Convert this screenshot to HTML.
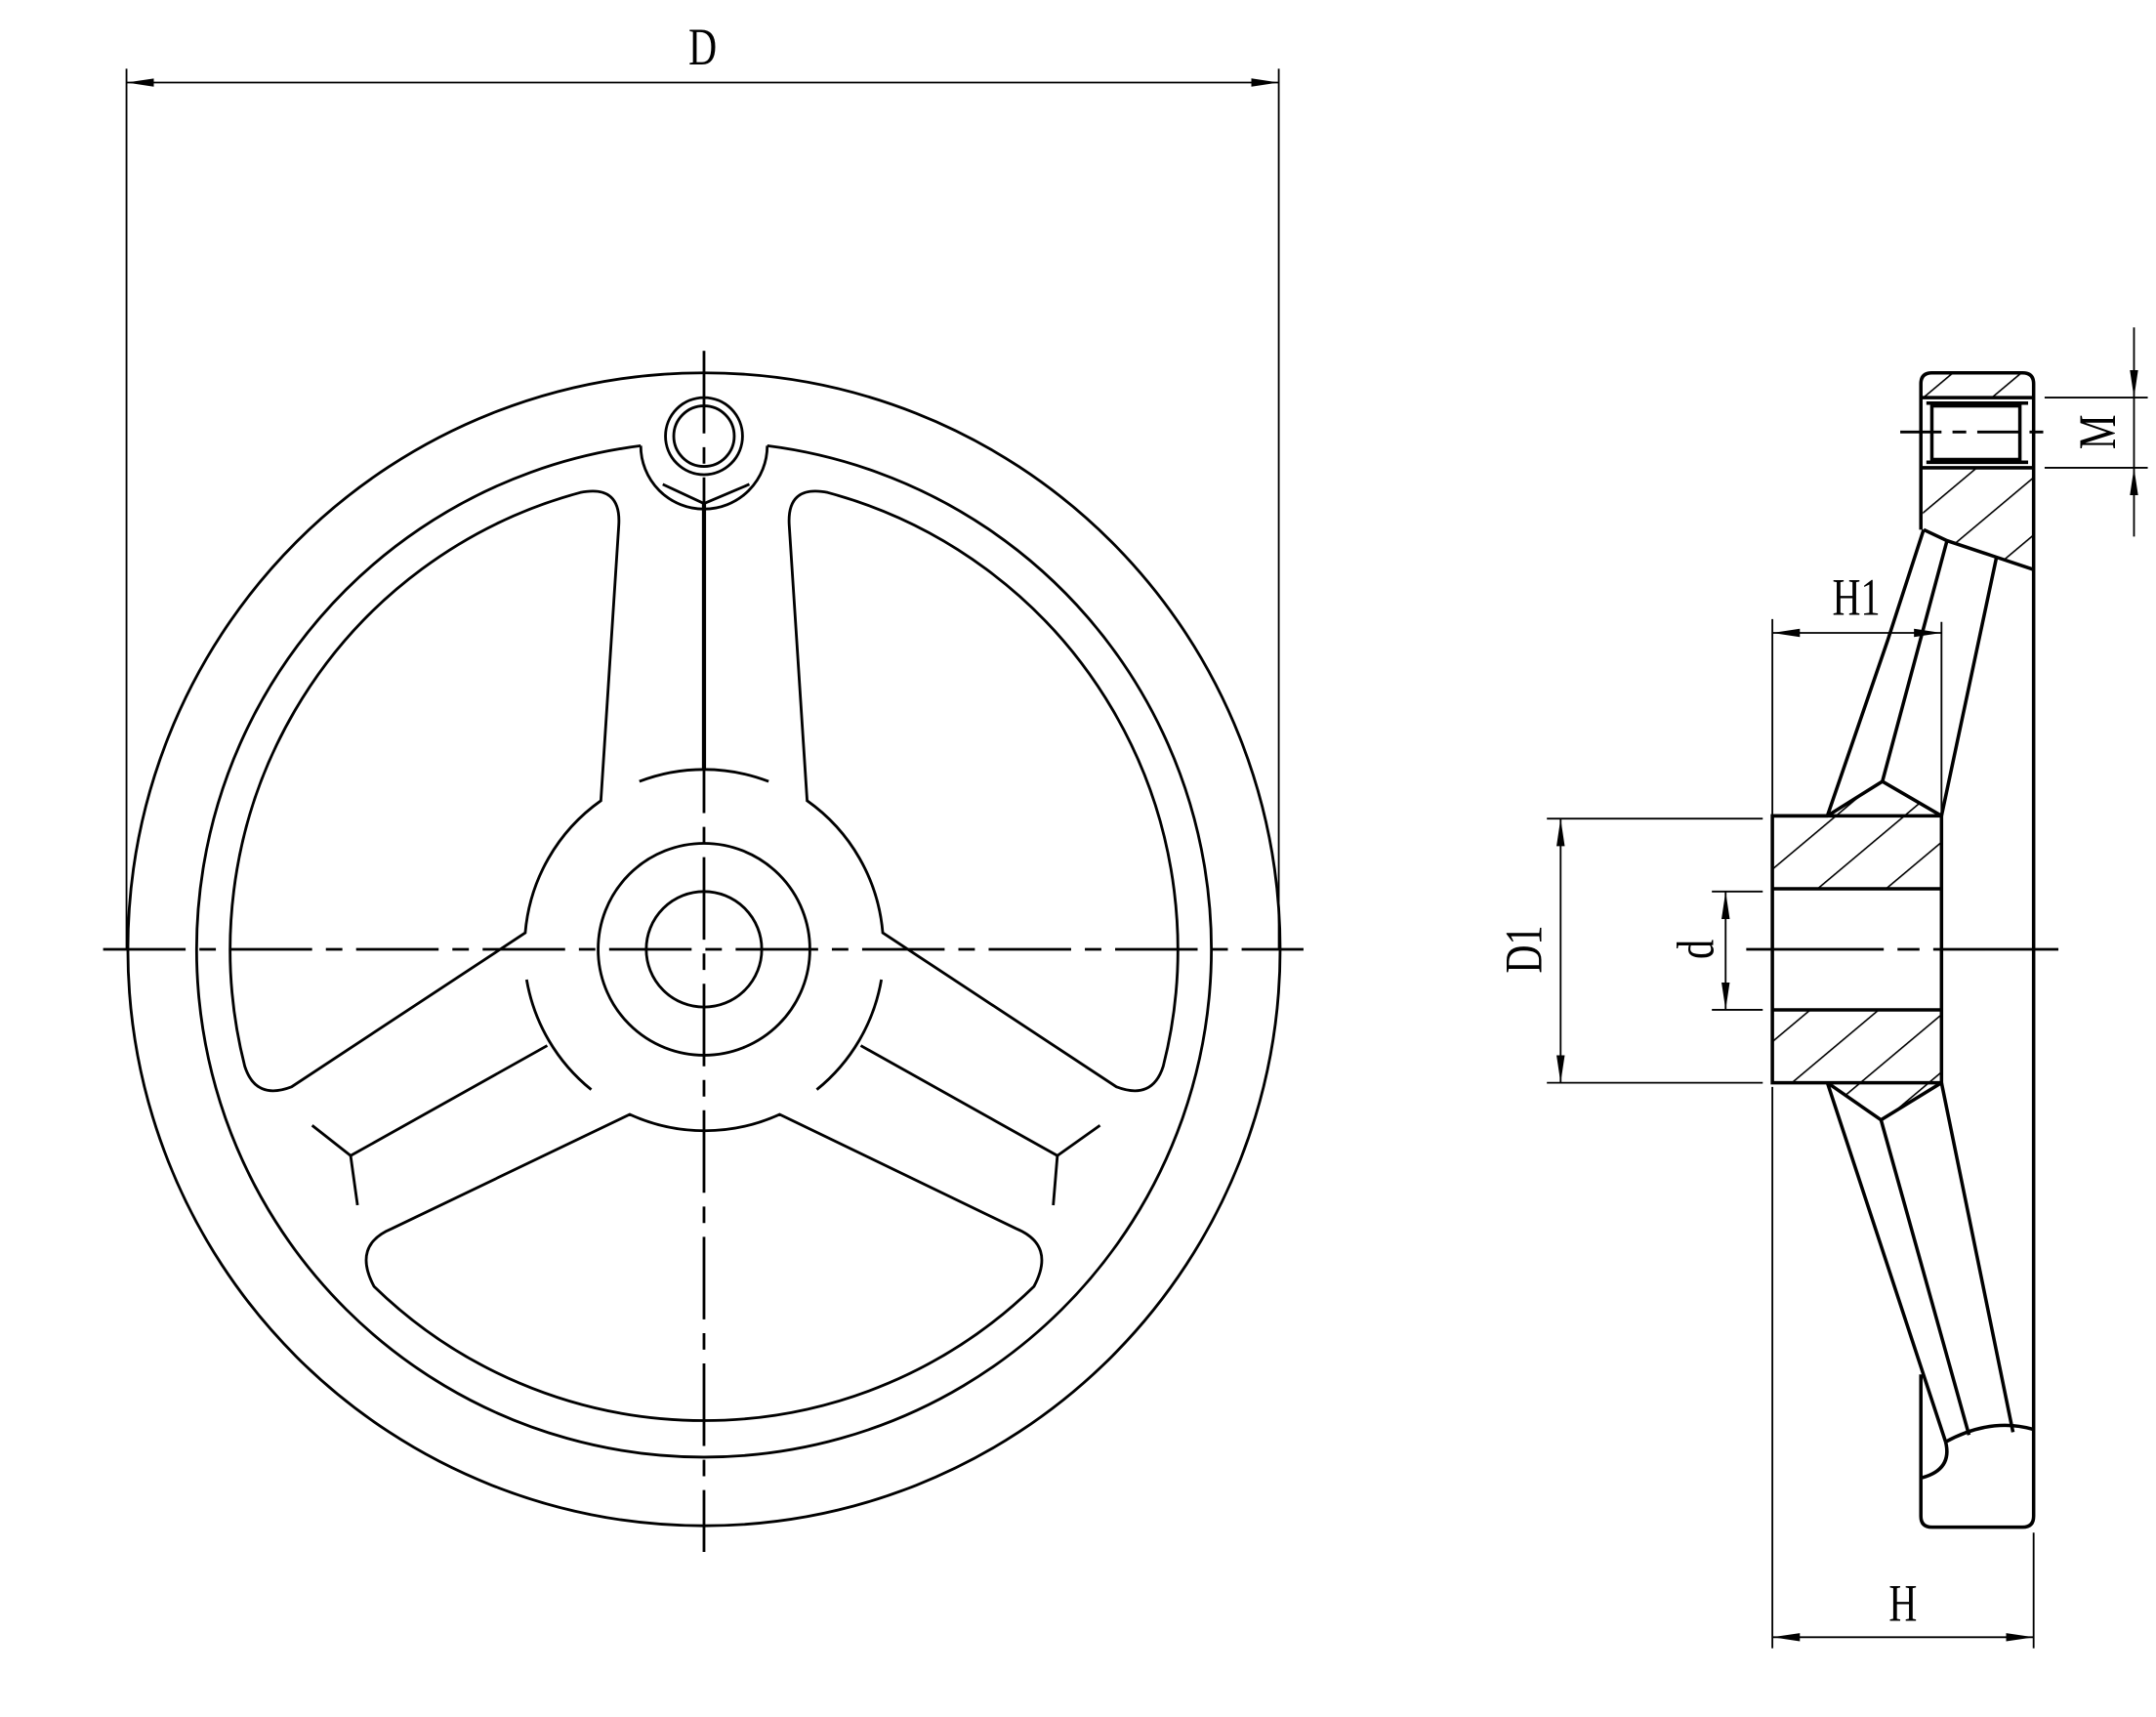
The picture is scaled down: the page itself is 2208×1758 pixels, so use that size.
<!DOCTYPE html>
<html><head><meta charset="utf-8">
<style>
html,body{margin:0;padding:0;background:#fff;}
svg{display:block;}
text{font-family:"Liberation Serif",serif;font-size:38px;fill:#000;}
</style></head>
<body>
<svg width="2208" height="1758" viewBox="0 0 1568 1248" preserveAspectRatio="none" xmlns="http://www.w3.org/2000/svg">
<defs>
<pattern id="h" patternUnits="userSpaceOnUse" width="32" height="32" patternTransform="rotate(-40)">
<line x1="0" y1="0" x2="32" y2="0" stroke="#000" stroke-width="2.2"/>
</pattern>
<marker id="a" viewBox="0 0 20 8" refX="20" refY="4" markerWidth="20" markerHeight="8" markerUnits="userSpaceOnUse" orient="auto-start-reverse">
<path d="M0,1 L20,4 L0,7 Z" fill="#000"/>
</marker>
</defs>
<g fill="none" stroke="#000" stroke-width="2">
<!-- front view -->
<circle cx="512" cy="690" r="419"/>
<path d="M558,324 A369,369 0 1 1 466,324"/>
<path d="M466,324 A46,46 0 0 0 558,324"/>
<circle cx="512" cy="317" r="28"/>
<circle cx="512" cy="317" r="22"/>
<path d="M437,582 L450,382 Q452,352 422,358 A344,344 0 0 0 178,775 Q186,800 212,790 L382,678 A131,131 0 0 1 437,582 Z"/>
<path d="M587,582 L574,382 Q572,352 602,358 A344,344 0 0 1 846,775 Q838,800 812,790 L642,678 A131,131 0 0 0 587,582 Z"/>
<path d="M458,810 L285,893 Q256,905 272,935 A344,344 0 0 0 752,935 Q768,905 739,893 L567,810 A131,131 0 0 1 458,810 Z"/>
<circle cx="512" cy="690" r="77"/>
<circle cx="512" cy="690" r="42"/>
<path d="M465,568 A131,131 0 0 1 559,568"/>
<path d="M383,712 A131,131 0 0 0 430,792"/>
<path d="M641,712 A131,131 0 0 1 594,792"/>
<line x1="398" y1="760" x2="255" y2="840"/>
<line x1="255" y1="840" x2="227" y2="818"/><line x1="255" y1="840" x2="260" y2="876"/>
<line x1="626" y1="760" x2="769" y2="840"/>
<line x1="769" y1="840" x2="800" y2="818"/><line x1="769" y1="840" x2="766" y2="876"/>
<line x1="512" y1="366" x2="482" y2="352"/><line x1="512" y1="366" x2="545" y2="352"/>
<line x1="512" y1="366" x2="512" y2="560" stroke-width="3"/>
<line x1="75" y1="690" x2="948" y2="690" stroke-dasharray="60,10,12,10"/>
<line x1="512" y1="255" x2="512" y2="1128" stroke-dasharray="60,10,12,10"/>
<!-- D dimension -->
<line x1="92" y1="50" x2="92" y2="690" stroke-width="1.3"/>
<line x1="930" y1="50" x2="930" y2="690" stroke-width="1.3"/>
<line x1="92" y1="60" x2="930" y2="60" stroke-width="1.3" marker-start="url(#a)" marker-end="url(#a)"/>

<!-- side view hatch -->
<g stroke="none" fill="url(#h)">
<path d="M1397,279 Q1397,271 1405,271 L1471,271 Q1479,271 1479,279 L1479,289 L1397,289 Z"/>
<path d="M1397,340 L1479,340 L1479,414 L1452,405 L1416,393 L1399,385 Z"/>
<path d="M1289,593 L1329,593 L1369,568 L1412,593 L1412,646 L1289,646 Z"/>
<path d="M1289,734 L1412,734 L1412,787 L1368,814 L1329,787 L1289,787 Z"/>
</g>
<g stroke-width="2.5">
<path d="M1397,385 L1397,279 Q1397,271 1405,271 L1471,271 Q1479,271 1479,279 L1479,1102 Q1479,1110 1471,1110 L1405,1110 Q1397,1110 1397,1102 L1397,999"/>
<line x1="1397" y1="289" x2="1479" y2="289"/>
<line x1="1397" y1="340" x2="1479" y2="340"/>
<path d="M1401,293 L1475,293 M1401,336 L1475,336"/>
<rect x="1405" y="295" width="64" height="39"/>
<path d="M1399,385 L1416,393 L1452,405 L1479,414"/>
<path d="M1399,385 L1373,465 L1329,593"/>
<path d="M1416,393 L1369,568"/>
<path d="M1452,405 L1412,593"/>
<path d="M1289,593 L1329,593 L1369,568 L1412,593"/>
<rect x="1289" y="593" width="123" height="194"/>
<line x1="1289" y1="646" x2="1412" y2="646"/>
<line x1="1289" y1="734" x2="1412" y2="734"/>
<path d="M1329,787 L1368,814 L1412,787"/>
<path d="M1329,787 L1415,1048"/>
<path d="M1368,814 L1432,1043"/>
<path d="M1412,787 L1464,1041"/>
<path d="M1415,1048 Q1448,1030 1479,1039"/>
<path d="M1415,1048 Q1420,1068 1398,1074"/>
</g>
<line x1="1382" y1="314" x2="1492" y2="314" stroke-dasharray="30,8,10,8"/>
<line x1="1270" y1="690" x2="1497" y2="690" stroke-dasharray="100,10,16,10"/>
<g stroke-width="1.3">
<line x1="1289" y1="450" x2="1289" y2="593"/>
<line x1="1412" y1="452" x2="1412" y2="592"/>
<line x1="1289" y1="460" x2="1412" y2="460" marker-start="url(#a)" marker-end="url(#a)"/>
<line x1="1125" y1="595" x2="1282" y2="595"/>
<line x1="1125" y1="787" x2="1282" y2="787"/>
<line x1="1135" y1="595" x2="1135" y2="787" marker-start="url(#a)" marker-end="url(#a)"/>
<line x1="1245" y1="648" x2="1282" y2="648"/>
<line x1="1245" y1="734" x2="1282" y2="734"/>
<line x1="1255" y1="648" x2="1255" y2="734" marker-start="url(#a)" marker-end="url(#a)"/>
<line x1="1487" y1="289" x2="1562" y2="289"/>
<line x1="1487" y1="340" x2="1562" y2="340"/>
<line x1="1552" y1="238" x2="1552" y2="289" marker-end="url(#a)"/>
<line x1="1552" y1="390" x2="1552" y2="340" marker-end="url(#a)"/>
<line x1="1552" y1="289" x2="1552" y2="340"/>
<line x1="1289" y1="790" x2="1289" y2="1198"/>
<line x1="1479" y1="1114" x2="1479" y2="1198"/>
<line x1="1289" y1="1190" x2="1479" y2="1190" marker-start="url(#a)" marker-end="url(#a)"/>
</g>
</g>
<text x="511" y="47" text-anchor="middle" transform="translate(511 0) scale(0.75 1) translate(-511 0)">D</text>
<text x="1350" y="447" text-anchor="middle" transform="translate(1350 0) scale(0.75 1) translate(-1350 0)">H1</text>
<text x="1384" y="1178" text-anchor="middle" transform="translate(1384 0) scale(0.75 1) translate(-1384 0)">H</text>
<text transform="translate(1121,690) rotate(-90) scale(0.75 1)" text-anchor="middle">D1</text>
<text transform="translate(1246,690) rotate(-90) scale(0.75 1)" text-anchor="middle">d</text>
<text transform="translate(1538,314) rotate(-90) scale(0.75 1)" text-anchor="middle">M</text>
</svg>
</body></html>
